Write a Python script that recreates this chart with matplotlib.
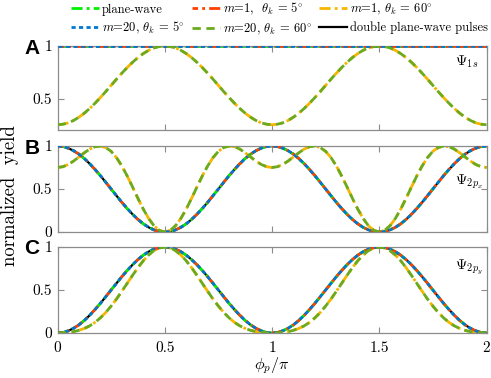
import numpy as np
import matplotlib
matplotlib.use('Agg')
import matplotlib.pyplot as plt

plt.rcParams['font.family'] = 'serif'
plt.rcParams['font.serif'] = ['cmr10', 'DejaVu Serif']
plt.rcParams['mathtext.fontset'] = 'cm'
plt.rcParams['axes.formatter.use_mathtext'] = True

# phi_p / pi sample positions
phi = np.linspace(0, 2, 81)

# Psi_1s
yield_1s_flat = [1.0] * 81
yield_1s_60 = [0.250, 0.255, 0.268, 0.291, 0.322, 0.360, 0.405, 0.455, 0.509, 0.566,
               0.625, 0.684, 0.741, 0.795, 0.845, 0.890, 0.928, 0.959, 0.982, 0.995,
               1.000, 0.995, 0.982, 0.959, 0.928, 0.890, 0.845, 0.795, 0.741, 0.684,
               0.625, 0.566, 0.509, 0.455, 0.405, 0.360, 0.322, 0.291, 0.268, 0.255,
               0.250, 0.255, 0.268, 0.291, 0.322, 0.360, 0.405, 0.455, 0.509, 0.566,
               0.625, 0.684, 0.741, 0.795, 0.845, 0.890, 0.928, 0.959, 0.982, 0.995,
               1.000, 0.995, 0.982, 0.959, 0.928, 0.890, 0.845, 0.795, 0.741, 0.684,
               0.625, 0.566, 0.509, 0.455, 0.405, 0.360, 0.322, 0.291, 0.268, 0.255,
               0.250]

# Psi_2px
yield_2px_5 = [1.000, 0.994, 0.975, 0.945, 0.905, 0.854, 0.794, 0.727, 0.655, 0.578,
               0.500, 0.422, 0.345, 0.273, 0.206, 0.146, 0.095, 0.054, 0.024, 0.006,
               0.000, 0.006, 0.024, 0.054, 0.095, 0.146, 0.206, 0.273, 0.345, 0.422,
               0.500, 0.578, 0.655, 0.727, 0.794, 0.854, 0.905, 0.945, 0.975, 0.994,
               1.000, 0.994, 0.975, 0.945, 0.905, 0.854, 0.794, 0.727, 0.655, 0.578,
               0.500, 0.422, 0.345, 0.273, 0.206, 0.146, 0.095, 0.054, 0.024, 0.006,
               0.000, 0.006, 0.024, 0.054, 0.095, 0.146, 0.206, 0.273, 0.345, 0.422,
               0.500, 0.578, 0.655, 0.727, 0.794, 0.854, 0.905, 0.945, 0.975, 0.994,
               1.000]
yield_2px_60 = [0.750, 0.759, 0.785, 0.825, 0.873, 0.921, 0.964, 0.992, 1.000, 0.982,
                0.938, 0.865, 0.768, 0.651, 0.523, 0.391, 0.266, 0.157, 0.072, 0.019,
                0.000, 0.019, 0.072, 0.157, 0.266, 0.391, 0.523, 0.651, 0.768, 0.865,
                0.938, 0.982, 1.000, 0.992, 0.964, 0.921, 0.873, 0.825, 0.785, 0.759,
                0.750, 0.759, 0.785, 0.825, 0.873, 0.921, 0.964, 0.992, 1.000, 0.982,
                0.938, 0.865, 0.768, 0.651, 0.523, 0.391, 0.266, 0.157, 0.072, 0.019,
                0.000, 0.019, 0.072, 0.157, 0.266, 0.391, 0.523, 0.651, 0.768, 0.865,
                0.938, 0.982, 1.000, 0.992, 0.964, 0.921, 0.873, 0.825, 0.785, 0.759,
                0.750]

# Psi_2py
yield_2py_5 = [0.000, 0.006, 0.025, 0.055, 0.095, 0.146, 0.206, 0.273, 0.345, 0.422,
               0.500, 0.578, 0.655, 0.727, 0.794, 0.854, 0.905, 0.946, 0.976, 0.994,
               1.000, 0.994, 0.976, 0.946, 0.905, 0.854, 0.794, 0.727, 0.655, 0.578,
               0.500, 0.422, 0.345, 0.273, 0.206, 0.146, 0.095, 0.055, 0.025, 0.006,
               0.000, 0.006, 0.025, 0.055, 0.095, 0.146, 0.206, 0.273, 0.345, 0.422,
               0.500, 0.578, 0.655, 0.727, 0.794, 0.854, 0.905, 0.946, 0.976, 0.994,
               1.000, 0.994, 0.976, 0.946, 0.905, 0.854, 0.794, 0.727, 0.655, 0.578,
               0.500, 0.422, 0.345, 0.273, 0.206, 0.146, 0.095, 0.055, 0.025, 0.006,
               0.000]
yield_2py_60 = [0.000, 0.002, 0.007, 0.016, 0.031, 0.053, 0.083, 0.124, 0.176, 0.239,
                0.313, 0.395, 0.485, 0.578, 0.671, 0.760, 0.840, 0.907, 0.958, 0.989,
                1.000, 0.989, 0.958, 0.907, 0.840, 0.760, 0.671, 0.578, 0.485, 0.395,
                0.313, 0.239, 0.176, 0.124, 0.083, 0.053, 0.031, 0.016, 0.007, 0.002,
                0.000, 0.002, 0.007, 0.016, 0.031, 0.053, 0.083, 0.124, 0.176, 0.239,
                0.313, 0.395, 0.485, 0.578, 0.671, 0.760, 0.840, 0.907, 0.958, 0.989,
                1.000, 0.989, 0.958, 0.907, 0.840, 0.760, 0.671, 0.578, 0.485, 0.395,
                0.313, 0.239, 0.176, 0.124, 0.083, 0.053, 0.031, 0.016, 0.007, 0.002,
                0.000]

panels = [
    ('A', r'$\Psi_{1s}$', yield_1s_flat, yield_1s_60, (0.2, 1.0), [0.5, 1], 0.81),
    ('B', r'$\Psi_{2p_x}$', yield_2px_5, yield_2px_60, (0.0, 1.0), [0, 0.5, 1], 0.58),
    ('C', r'$\Psi_{2p_y}$', yield_2py_5, yield_2py_60, (0.0, 1.0), [0, 0.5, 1], 0.77),
]

W, H = 491, 378
boxes = [(46, 130), (146, 232), (247, 333)]
gray = '#8c8c8c'

fig = plt.figure(figsize=(W / 100, H / 100), dpi=100)
lw = 2.0
handles = []
for (letter, psi, y5, y60, ylim, yt, psi_y), (top, bot) in zip(panels, boxes):
    ax = fig.add_axes([57.5 / W, 1 - bot / H, 429 / W, (bot - top) / H])
    h6, = ax.plot(phi, y5, color='black', lw=1.6, zorder=1)
    h1, = ax.plot(phi, y5, color='#00f000', lw=lw, ls=(0, (4, 1.5, 1, 1.5)), zorder=2)
    h2, = ax.plot(phi, y5, color='#ff4000', lw=lw, ls=(2, (4, 1.5, 1, 1.5)), zorder=3)
    h3, = ax.plot(phi, y60, color='#f7b500', lw=lw, ls=(0, (4, 1.5, 1, 1.5)), zorder=2)
    h4, = ax.plot(phi, y5, color='#0078d0', lw=lw, ls=(0, (1.5, 1.2)), zorder=4)
    h5, = ax.plot(phi, y60, color='#6aaa1e', lw=lw, ls=(0, (3, 2)), zorder=4)
    handles = [h1, h2, h3, h4, h5, h6]
    ax.set_xlim(0, 2)
    ax.set_ylim(*ylim)
    ax.set_yticks(yt)
    ax.set_yticklabels(['%g' % v for v in yt])
    ax.set_xticks([0, 0.5, 1, 1.5, 2])
    ax.tick_params(direction='in', length=4, width=0.8, color=gray, top=True, right=True,
                   labelsize=11, pad=4)
    ax.tick_params(axis='x', pad=6)
    for s in ax.spines.values():
        s.set_color(gray)
        s.set_linewidth(0.9)
    if letter != 'C':
        ax.tick_params(labelbottom=False)
    else:
        ax.set_xticklabels(['0', '0.5', '1', '1.5', '2'])
    ax.text(1.853, ylim[0] + (ylim[1] - ylim[0]) * psi_y, psi, fontsize=10.5, va='center', ha='left')
    fig.text(32 / W, 1 - (top + 2) / H, letter, family='Liberation Sans', weight='bold',
             fontsize=15, ha='center', va='center')

fig.text(272 / W, 1 - 366 / H, r'$\phi_p/\pi$', fontsize=11.5, ha='center', va='center')
fig.text(10 / W, 1 - 196 / H, 'normalized  yield', rotation=90, fontsize=13.5, ha='center', va='center')

labels = ['plane-wave', r'$m$=1,  $\theta_k$ = 5$^{\circ}$', r'$m$=1, $\theta_k$ = 60$^{\circ}$',
          r'$m$=20, $\theta_k$ = 5$^{\circ}$', r'$m$=20, $\theta_k$ = 60$^{\circ}$',
          'double plane-wave pulses']
order = [0, 3, 1, 4, 2, 5]
fig.legend([handles[i] for i in order], [labels[i] for i in order], ncol=3, frameon=False,
           loc='upper left', bbox_to_anchor=(70 / W, 1.0), fontsize=9, handlelength=2.2,
           handletextpad=0.25, columnspacing=0.6, borderaxespad=0.0, borderpad=0.1,
           labelspacing=0.35)

fig.savefig('out.png', dpi=100)
